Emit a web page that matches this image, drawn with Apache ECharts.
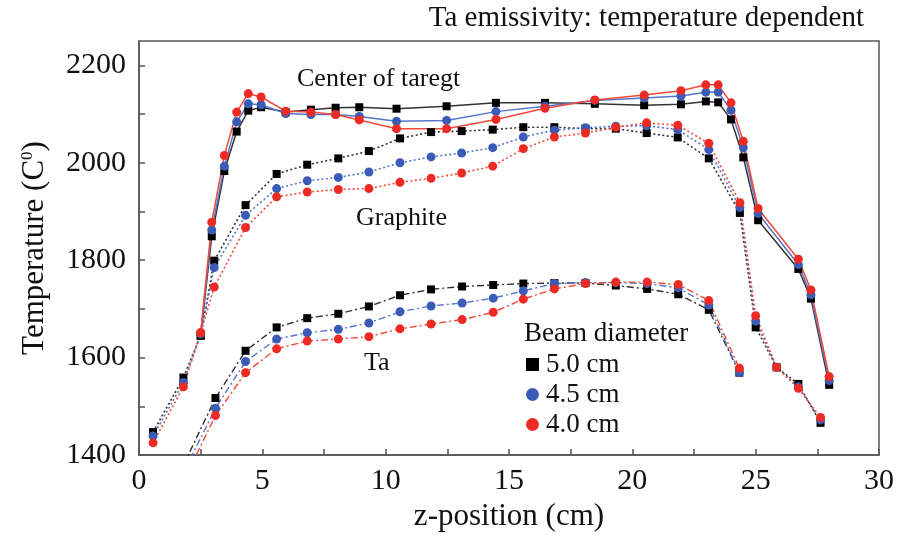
<!DOCTYPE html>
<html>
<head>
<meta charset="utf-8">
<script src="https://cdn.jsdelivr.net/npm/echarts@6/dist/echarts.min.js"></script>
<style>html,body{margin:0;padding:0;background:#fff}#c{width:908px;height:537px}</style>
</head>
<body>
<div id="c"></div>
<script>
// ---- data (z in cm, temperature in C) ----
const diameters = ['5.0 cm', '4.5 cm', '4.0 cm'];

const zCenter = [2.5, 2.95, 3.46, 3.96, 4.43, 4.95, 5.95, 6.97, 7.97, 8.93, 10.44, 12.47, 14.47, 16.46, 18.48, 20.48, 21.97, 22.98, 23.48, 24.0, 24.5, 25.1, 26.73, 27.24, 27.98];
const center50 = [1645, 1849, 1983, 2064, 2107, 2114, 2104, 2109, 2113, 2114, 2111, 2116, 2123, 2123, 2121, 2118, 2120, 2126, 2124, 2089, 2011, 1882, 1782, 1721, 1544];
const center45 = [1649, 1862, 1993, 2084, 2121, 2119, 2101, 2099, 2099, 2095, 2085, 2087, 2105, 2116, 2128, 2133, 2137, 2145, 2145, 2108, 2031, 1896, 1791, 1729, 1553];
const center40 = [1651, 1878, 2015, 2104, 2142, 2135, 2106, 2104, 2099, 2088, 2070, 2070, 2089, 2112, 2129, 2139, 2148, 2160, 2160, 2123, 2044, 1906, 1802, 1739, 1561];

const zGraphite = [0.57, 1.8, 2.5, 3.05, 4.32, 5.58, 6.82, 8.08, 9.32, 10.58, 11.84, 13.08, 14.34, 15.58, 16.84, 18.1, 19.33, 20.58, 21.84, 23.1, 24.36, 25.0, 25.85, 26.73, 27.63];
const graphite50 = [1447, 1559, 1645, 1799, 1913, 1977, 1996, 2009, 2024, 2050, 2063, 2065, 2068, 2073, 2073, 2070, 2070, 2061, 2052, 2009, 1897, 1662, 1580, 1546, 1466];
const graphite45 = [1439, 1549, 1649, 1785, 1892, 1947, 1963, 1970, 1981, 2000, 2012, 2020, 2031, 2053, 2067, 2072, 2075, 2076, 2068, 2027, 1908, 1675, 1580, 1540, 1472];
const graphite40 = [1425, 1540, 1651, 1745, 1867, 1930, 1940, 1945, 1947, 1960, 1968, 1979, 1993, 2029, 2053, 2061, 2073, 2082, 2077, 2040, 1918, 1686, 1580, 1537, 1477];

const zTa = [1.8, 3.1, 4.32, 5.58, 6.82, 8.08, 9.32, 10.58, 11.84, 13.1, 14.36, 15.58, 16.84, 18.1, 19.33, 20.6, 21.86, 23.1, 24.34];
const ta50 = [1379, 1517, 1614, 1662, 1681, 1690, 1705, 1728, 1740, 1746, 1749, 1752, 1753, 1753, 1748, 1741, 1730, 1698, 1569];
const ta45 = [1364, 1496, 1592, 1638, 1651, 1658, 1671, 1694, 1706, 1712, 1722, 1737, 1752, 1754, 1754, 1752, 1743, 1708, 1569];
const ta40 = [1346, 1481, 1569, 1618, 1634, 1638, 1643, 1659, 1669, 1678, 1693, 1720, 1741, 1752, 1755, 1755, 1750, 1717, 1578];

const xTicks = [0, 5, 10, 15, 20, 25, 30];
const yTicks = [1400, 1600, 1800, 2000, 2200];

// ---- styles ----
const SERIF = '"Liberation Serif", "Times New Roman", serif';
const markerColor = ['#000000', '#3b5cb6', '#ee2a24'];
const lineColor = ['#333333', '#5574cc', '#f2493a'];
const symbols = ['rect', 'circle', 'circle'];
const symbolSizes = [8, 9, 9];

function pairs(xs, ys) { return xs.map((x, i) => [x, ys[i]]); }

const groups = [
  { z: zCenter, vals: [center50, center45, center40], type: 'solid', width: 1.5 },
  { z: zGraphite, vals: [graphite50, graphite45, graphite40], type: [2, 2.5], width: 1.6 },
  { z: zTa, vals: [ta50, ta45, ta40], type: [7, 3, 2, 3], width: 1.4 }
];

const series = [];
for (let d = 0; d < 3; d++) {
  groups.forEach(g => {
    series.push({
      name: diameters[d],
      type: 'line',
      data: pairs(g.z, g.vals[d]),
      clip: true,
      symbol: symbols[d],
      symbolSize: symbolSizes[d],
      itemStyle: { color: markerColor[d] },
      lineStyle: { color: lineColor[d], width: g.width, type: g.type },
      emphasis: { disabled: true },
      animation: false
    });
  });
}

const chart = echarts.init(document.getElementById('c'), null, { renderer: 'canvas' });
chart.setOption({
  animation: false,
  backgroundColor: '#ffffff',
  grid: { left: 139, right: 29, top: 41, bottom: 82, show: true, borderColor: '#555', borderWidth: 1.5, backgroundColor: 'transparent' },
  xAxis: {
    type: 'value', min: 0, max: 30, interval: 2.5,
    axisLine: { lineStyle: { color: '#555', width: 1.5 } },
    axisTick: { inside: true, length: 6, lineStyle: { color: '#555', width: 1.5 } },
    splitLine: { show: false },
    axisLabel: {
      margin: 11, color: '#111', fontFamily: SERIF, fontSize: 30,
      formatter: v => (xTicks.indexOf(v) >= 0 ? String(v) : '')
    },
    name: 'z-position (cm)', nameLocation: 'middle', nameGap: 45,
    nameTextStyle: { color: '#111', fontFamily: SERIF, fontSize: 31 }
  },
  yAxis: {
    type: 'value', min: 1400, max: 2250, interval: 100,
    axisLine: { lineStyle: { color: '#555', width: 1.5 } },
    axisTick: { inside: true, length: 6, lineStyle: { color: '#555', width: 1.5 } },
    splitLine: { show: false },
    axisLabel: {
      margin: 13, color: '#111', fontFamily: SERIF, fontSize: 30, showMaxLabel: false,
      formatter: v => (yTicks.indexOf(v) >= 0 ? String(v) : '')
    },
    name: '{a|Temperature (C}{b|0}{a|)}', nameLocation: 'middle', nameGap: 89,
    nameTextStyle: {
      color: '#111', fontFamily: SERIF, fontSize: 31,
      rich: {
        a: { color: '#111', fontFamily: SERIF, fontSize: 31 },
        b: { color: '#111', fontFamily: SERIF, fontSize: 17, verticalAlign: 'top' }
      }
    }
  },
  legend: {
    orient: 'vertical', left: 526, top: 351, padding: 0, itemWidth: 13, itemHeight: 13, itemGap: 3,
    selectedMode: false,
    data: [
      { name: '5.0 cm', icon: 'rect' },
      { name: '4.5 cm', icon: 'circle' },
      { name: '4.0 cm', icon: 'circle' }
    ],
    textStyle: { color: '#111', fontFamily: SERIF, fontSize: 27, padding: [0, 0, 0, 2] }
  },
  graphic: [
    { type: 'text', right: 44, top: 4, style: { text: 'Ta emissivity: temperature dependent', font: '29px ' + SERIF, fill: '#111' } },
    { type: 'text', left: 297, top: 66, style: { text: 'Center of taregt', font: '26px ' + SERIF, fill: '#111' } },
    { type: 'text', left: 356, top: 205, style: { text: 'Graphite', font: '26px ' + SERIF, fill: '#111' } },
    { type: 'text', left: 364, top: 350, style: { text: 'Ta', font: '26px ' + SERIF, fill: '#111' } },
    { type: 'text', left: 524, top: 320, style: { text: 'Beam diameter', font: '27px ' + SERIF, fill: '#111' } }
  ],
  series: series
});
</script>
</body>
</html>
